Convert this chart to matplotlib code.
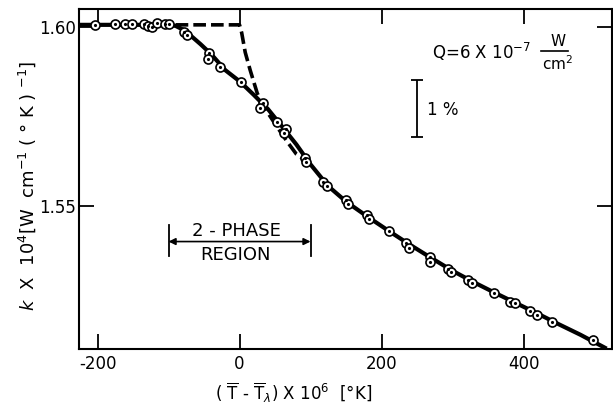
import matplotlib
matplotlib.use("Agg")
import matplotlib.pyplot as plt

plt.rcParams["axes.unicode_minus"] = False
plt.rcParams["mathtext.fontset"] = "dejavusans"
plt.rcParams["font.family"] = "DejaVu Sans"

# measured points (T - T_lambda in 1e-6 K, k x 1e4 in W/cm/K)
pts_x = [-204, -175, -161, -151, -134, -129, -123, -116, -105, -99, -78, -74,
         -43, -44, -27, 2, 33, 29, 53, 66, 62, 92, 94, 117, 123, 150, 153,
         180, 183, 211, 235, 238, 268, 268, 294, 298, 322, 328, 359, 381, 388,
         409, 419, 440, 498]
pts_y = [1.6007, 1.6010, 1.6009, 1.6008, 1.6009, 1.6004, 1.6001, 1.6012,
         1.6009, 1.6008, 1.5987, 1.5978, 1.5928, 1.5911, 1.5889, 1.5848,
         1.5789, 1.5775, 1.5735, 1.5716, 1.5705, 1.5635, 1.5624, 1.5566,
         1.5556, 1.5515, 1.5505, 1.5475, 1.5464, 1.5429, 1.5397, 1.5381,
         1.5358, 1.5344, 1.5323, 1.5314, 1.5291, 1.5285, 1.5255, 1.5231,
         1.5227, 1.5205, 1.5195, 1.5174, 1.5124]

# solid curve drawn through the data
curve_x = [-226, -100, -90, -80, -70, -55, -40, -20, 0, 20, 40, 60, 80, 100,
           125, 150, 180, 210, 240, 270, 300, 330, 360, 390, 420, 450, 480, 517]
curve_y = [1.6007, 1.6007, 1.6004, 1.5994, 1.5979, 1.5953, 1.5925, 1.5880,
           1.5849, 1.5811, 1.5771, 1.5722, 1.5672, 1.5616, 1.5555, 1.5512,
           1.5470, 1.5430, 1.5391, 1.5354, 1.5318, 1.5286, 1.5256, 1.5227,
           1.5198, 1.5168, 1.5139, 1.5100]

# dashed curve (no two-phase region)
dash_x = [-90, 0, 3, 8, 15, 25, 35, 45, 55, 67, 80, 95]
dash_y = [1.6007, 1.6007, 1.5985, 1.5930, 1.5880, 1.5815, 1.5775, 1.5745,
          1.5715, 1.5680, 1.5645, 1.5624]

x_ticks = [-200, 0, 200, 400]
y_ticks = [1.55, 1.60]

phase_lo, phase_hi = -100, 100
phase_y = 1.5400
bar_x, bar_top = 250, 1.5853
bar_len = 0.016  # 1 %

fig = plt.figure(figsize=(6.13, 4.04), dpi=100)
ax = fig.add_axes([0.1284, 0.1361, 0.8692, 0.8404])

ax.plot(curve_x, curve_y, color="black", lw=3.0, solid_capstyle="butt", zorder=2)
ax.plot(dash_x, dash_y, color="black", lw=2.6, linestyle=(0, (3.5, 1.4)), zorder=2)
ax.plot(pts_x, pts_y, "o", ms=6.5, mfc="white", mec="black", mew=1.2, zorder=3)
ax.plot(pts_x, pts_y, ".", ms=2.5, color="black", zorder=4)

ax.set_xlim(-226.5, 523.9)
ax.set_ylim(1.5099, 1.6050)
ax.set_xticks(x_ticks)
ax.set_yticks(y_ticks)
ax.set_yticklabels(["%.2f" % v for v in y_ticks])
ax.tick_params(direction="in", length=11, width=1.3, top=True, right=True,
               labelsize=12)
ax.tick_params(axis="x", pad=4)
ax.tick_params(axis="y", pad=2)
for s in ax.spines.values():
    s.set_linewidth(1.5)

# 2-phase region bracket
ax.plot([phase_lo, phase_lo], [phase_y - 0.0040, phase_y + 0.0047], color="black", lw=1.3)
ax.plot([phase_hi, phase_hi], [phase_y - 0.0040, phase_y + 0.0047], color="black", lw=1.3)
ax.annotate("", xy=(phase_lo, phase_y), xytext=(phase_hi, phase_y),
            arrowprops=dict(arrowstyle="<|-|>", color="black", lw=1.2,
                            shrinkA=0, shrinkB=0, mutation_scale=10))
ax.text(-5, 1.5430, "2 - PHASE", ha="center", va="center", fontsize=13)
ax.text(-5, 1.5363, "REGION", ha="center", va="center", fontsize=13)

# 1 % scale bar
ax.errorbar([bar_x], [bar_top - bar_len / 2], yerr=bar_len / 2, color="black",
            lw=1.3, capsize=4, capthick=1.3)
ax.text(264, 1.5769, "1 %", ha="left", va="center", fontsize=12)

# heat flux
ax.text(271, 1.5931, "Q=6 X 10$^{-7}$", ha="left", va="center", fontsize=12)
ax.text(448, 1.5959, "W", ha="center", va="center", fontsize=11)
ax.plot([425, 462], [1.5933, 1.5933], color="black", lw=1.2)
ax.text(448, 1.5897, "cm$^2$", ha="center", va="center", fontsize=11)

fig.text(294 / 613, 1 - 393 / 404,
         r"( $\overline{\mathrm{T}}$ - $\overline{\mathrm{T}}_{\lambda}$) X 10$^6$  [°K]",
         ha="center", va="center", fontsize=12)
fig.text(27 / 613, 1 - 186 / 404,
         r"$k$  X  10$^4$[W  cm$^{-1}$ ( ° K ) $^{-1}$]",
         ha="center", va="center", rotation=90, fontsize=13)

fig.savefig("out.png", dpi=100)
